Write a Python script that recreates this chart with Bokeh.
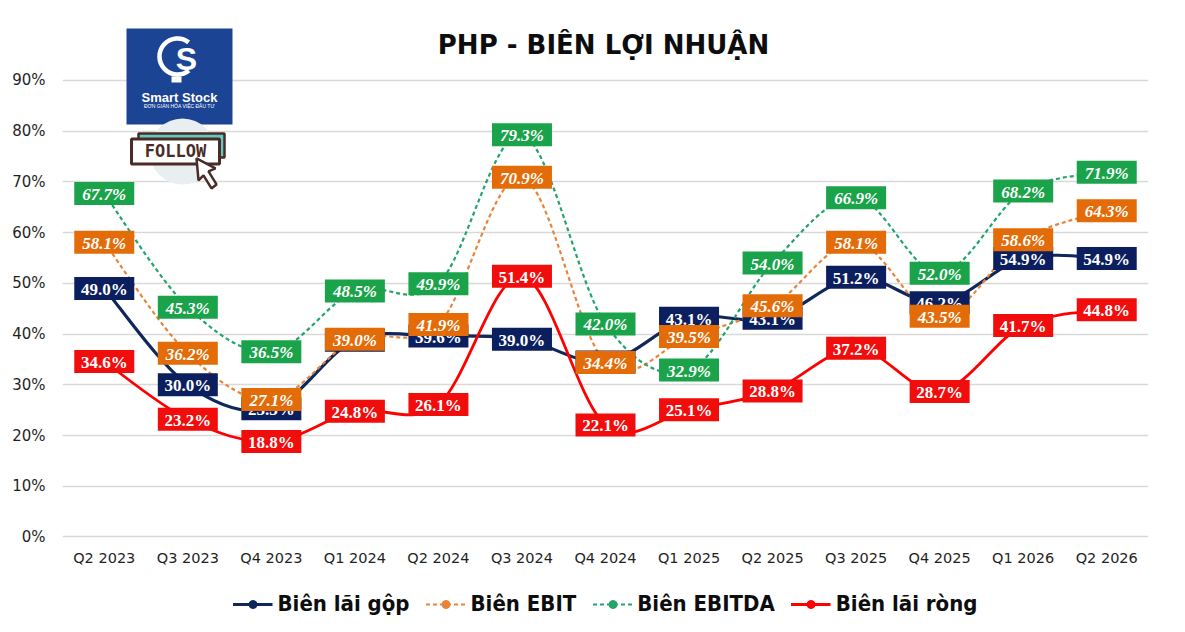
from bokeh.plotting import figure
from bokeh.models import Range1d, FixedTicker, Legend, LegendItem
from bokeh.layouts import column
from bokeh.core.properties import value
from bokeh.embed import file_html
from bokeh.resources import INLINE

quarters = ["Q2 2023", "Q3 2023", "Q4 2023", "Q1 2024", "Q2 2024", "Q3 2024", "Q4 2024",
            "Q1 2025", "Q2 2025", "Q3 2025", "Q4 2025", "Q1 2026", "Q2 2026"]
bien_lai_gop = [49.0, 30.0, 25.3, 38.8, 39.6, 39.0, 34.5, 43.1, 43.1, 51.2, 46.2, 54.9, 54.9]
bien_ebit = [58.1, 36.2, 27.1, 39.0, 41.9, 70.9, 34.4, 39.5, 45.6, 58.1, 43.5, 58.6, 64.3]
bien_ebitda = [67.7, 45.3, 36.5, 48.5, 49.9, 79.3, 42.0, 32.9, 54.0, 66.9, 52.0, 68.2, 71.9]
bien_lai_rong = [34.6, 23.2, 18.8, 24.8, 26.1, 51.4, 22.1, 25.1, 28.8, 37.2, 28.7, 41.7, 44.8]
y_ticks = [0, 10, 20, 30, 40, 50, 60, 70, 80, 90]
y_tick_labels = ["0%", "10%", "20%", "30%", "40%", "50%", "60%", "70%", "80%", "90%"]
series_names = ["Biên lãi gộp", "Biên EBIT", "Biên EBITDA", "Biên lãi ròng"]
title_text = "PHP - BIÊN LỢI NHUẬN"

W = 1169
H_MAIN = 570
H_LEG = 56
Y0, Y1 = -0.3, 102.61
PXU = 5.0744      # px per percent
XPU = 83.54       # px per category

p = figure(width=W, height=H_MAIN, output_backend="svg", toolbar_location=None,
           x_range=Range1d(-0.5, 12.5), y_range=Range1d(Y0, Y1),
           min_border_left=62, min_border_right=21, min_border_top=16, min_border_bottom=32)
p.outline_line_color = None
p.background_fill_color = "white"
p.border_fill_color = "white"

# helpers for decorative elements (image pixel -> data)
def dx(px):
    return -0.5 + (px - 62) / XPU

def dy(py):
    return Y1 - (py - 16) / PXU

# axes
p.xgrid.visible = False
p.ygrid.ticker = FixedTicker(ticks=y_ticks)
p.ygrid.grid_line_color = "#D9D9D9"
p.ygrid.grid_line_width = 1.6

p.yaxis.ticker = FixedTicker(ticks=y_ticks)
p.yaxis.major_label_overrides = {t: l for t, l in zip(y_ticks, y_tick_labels)}
p.yaxis.axis_line_color = None
p.yaxis.major_tick_line_color = None
p.yaxis.minor_tick_line_color = None
p.yaxis.major_label_standoff = 11
p.yaxis.major_label_text_font = "DejaVu Sans"
p.yaxis.major_label_text_font_size = "15px"
p.yaxis.major_label_text_color = "#1F1F1F"

idx = list(range(len(quarters)))
p.xaxis.ticker = FixedTicker(ticks=idx)
p.xaxis.major_label_overrides = {i: q for i, q in zip(idx, quarters)}
p.xaxis.axis_line_color = None
p.xaxis.major_tick_line_color = None
p.xaxis.minor_tick_line_color = None
p.xaxis.major_label_standoff = 5
p.xaxis.major_label_text_font = "DejaVu Sans"
p.xaxis.major_label_text_font_size = "14.5px"
p.xaxis.major_label_text_color = "#1F1F1F"


def smooth(vals, t=1.0 / 6):
    n = len(vals)
    out = dict(x0=[], y0=[], x1=[], y1=[], cx0=[], cy0=[], cx1=[], cy1=[])
    for i in range(n - 1):
        pm = i - 1 if i > 0 else i
        pp = i + 2 if i + 2 < n else i + 1
        out["x0"].append(i); out["y0"].append(vals[i])
        out["x1"].append(i + 1); out["y1"].append(vals[i + 1])
        out["cx0"].append(i + (i + 1 - pm) * t)
        out["cy0"].append(vals[i] + (vals[i + 1] - vals[pm]) * t)
        out["cx1"].append(i + 1 - (pp - i) * t)
        out["cy1"].append(vals[i + 1] - (vals[pp] - vals[i]) * t)
    return out


specs = [
    (bien_lai_gop, "#10275C", "#0B1F5E", "solid", 3.2, "bold"),
    (bien_ebit, "#E8833A", "#E36C09", "4 3", 2.2, "bold italic"),
    (bien_ebitda, "#22A46C", "#1AA34A", "4 3", 2.2, "bold italic"),
    (bien_lai_rong, "#FF0000", "#F20D0D", "solid", 2.8, "bold"),
]

for (vals, lc, bc, dash, lw, fs) in specs:
    s = smooth(vals)
    p.bezier(x0=s["x0"], y0=s["y0"], x1=s["x1"], y1=s["y1"],
             cx0=s["cx0"], cy0=s["cy0"], cx1=s["cx1"], cy1=s["cy1"],
             line_color=lc, line_width=lw, line_dash=dash)
    p.scatter(x=idx, y=vals, marker="circle", size=9, fill_color=lc, line_color=lc)

for (vals, lc, bc, dash, lw, fs) in specs:
    p.rect(x=idx, y=vals, width=60, height=23, width_units="screen", height_units="screen",
           fill_color=bc, line_color=None)
    p.text(x=idx, y=vals, text=["%.1f%%" % v for v in vals], text_align="center",
           text_baseline="middle", text_font=value("Liberation Serif"), text_font_style=fs,
           text_font_size="17px", text_color="white", y_offset=1)

# title
p.text(x=[dx(603)], y=[dy(45)], text=[title_text], text_align="center", text_baseline="middle",
       text_font=value("DejaVu Sans"), text_font_style="bold", text_font_size="26px",
       text_color="#0D0D0D")

# logo (decoration)
p.rect(x=[dx(179)], y=[dy(76)], width=106, height=96, width_units="screen", height_units="screen",
       fill_color="#1C4494", line_color=None)
p.arc(x=[dx(177)], y=[dy(56)], radius=18, radius_units="screen", start_angle=0.9, end_angle=5.4,
      line_color="white", line_width=4.5)
p.rect(x=[dx(176)], y=[dy(79)], width=10, height=6, width_units="screen", height_units="screen",
       fill_color="white", line_color=None)
p.text(x=[dx(186)], y=[dy(59)], text=["S"], text_align="center", text_baseline="middle",
       text_font=value("Liberation Sans"), text_font_style="bold", text_font_size="32px",
       text_color="white")
p.text(x=[dx(179)], y=[dy(97)], text=["Smart Stock"], text_align="center", text_baseline="middle",
       text_font=value("Liberation Sans"), text_font_style="bold", text_font_size="13px",
       text_color="white")
p.text(x=[dx(179)], y=[dy(106)], text=["ĐƠN GIẢN HÓA VIỆC ĐẦU TƯ"], text_align="center",
       text_baseline="middle", text_font=value("Liberation Sans"), text_font_size="5px",
       text_color="white")
p.scatter(x=[dx(182)], y=[dy(151)], marker="circle", size=66, fill_color="#E9EEF1", line_color=None)
p.rect(x=[dx(181)], y=[dy(145)], width=86, height=24, width_units="screen", height_units="screen",
       fill_color="#62C9BC", line_color="#4A2B27", line_width=2.5)
p.rect(x=[dx(175)], y=[dy(151)], width=88, height=25, width_units="screen", height_units="screen",
       fill_color="white", line_color="#4A2B27", line_width=3)
p.text(x=[dx(175)], y=[dy(151)], text=["FOLLOW"], text_align="center", text_baseline="middle",
       text_font=value("DejaVu Sans Mono"), text_font_style="bold", text_font_size="17px",
       text_color="#4A2B27")
cur = [(196, 158), (215, 168), (208, 171), (216, 184), (211, 188), (203, 175), (198, 180)]
p.patch(x=[dx(a) for a, b in cur], y=[dy(b) for a, b in cur], fill_color="white",
        line_color="#4A2B27", line_width=2.5)

# legend in its own strip below the chart
lf = figure(width=W, height=H_LEG, output_backend="svg", toolbar_location=None,
            x_range=Range1d(0, 1), y_range=Range1d(0, 1),
            min_border_left=0, min_border_right=0, min_border_top=0, min_border_bottom=0)
lf.axis.visible = False
lf.grid.visible = False
lf.outline_line_color = None
lf.border_fill_color = "white"

legend_items = []
for (vals, lc, bc, dash, lw, fs), name in zip(specs, series_names):
    lr = lf.line(x=[5, 6], y=[5, 6], line_color=lc, line_width=lw, line_dash=dash)
    mr = lf.scatter(x=[5], y=[5], marker="circle", size=10, fill_color=lc, line_color=lc)
    legend_items.append(LegendItem(label=name, renderers=[lr, mr]))

legend = Legend(items=legend_items, orientation="horizontal", location="bottom_center")
legend.label_text_font = "DejaVu Sans Condensed, Roboto"
legend.label_text_font_style = "bold"
legend.label_text_font_size = "22px"
legend.label_text_color = "#0D0D0D"
legend.glyph_width = 40
legend.glyph_height = 20
legend.label_standoff = 5
legend.spacing = 16
legend.border_line_color = None
legend.background_fill_alpha = 0
legend.margin = 10
legend.padding = 4
lf.add_layout(legend)

open("out.html", "w").write(file_html(column(p, lf), INLINE))
